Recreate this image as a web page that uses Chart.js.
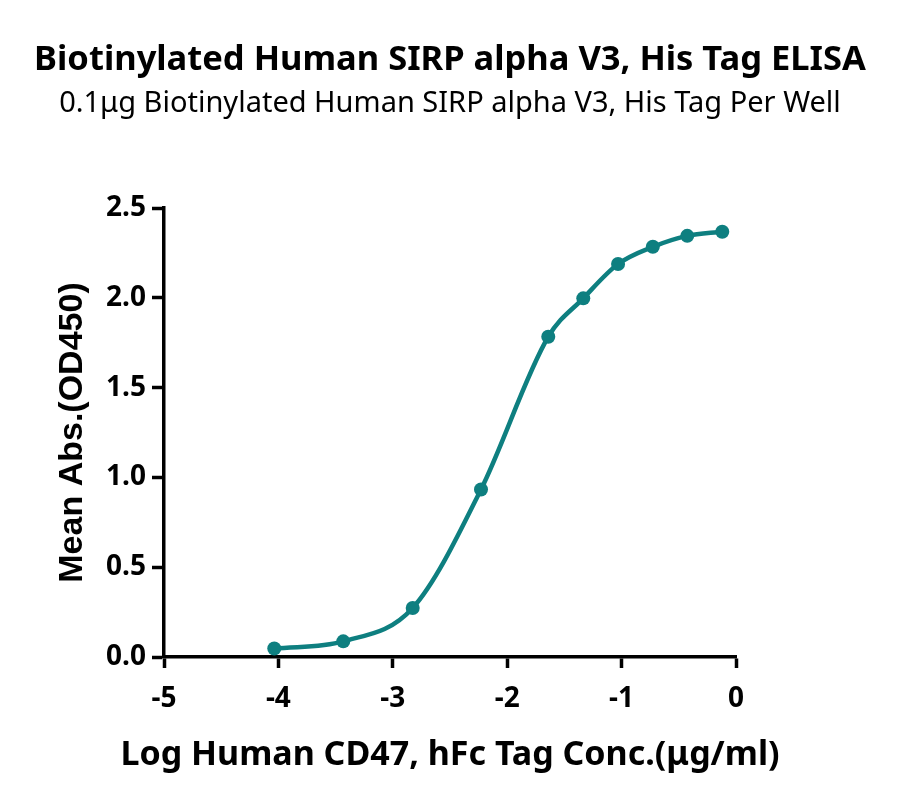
<!DOCTYPE html>
<html lang="en">
<head>
    <meta charset="UTF-8">
    <title>Biotinylated Human SIRP alpha V3, His Tag ELISA</title>
    <style>
        body {
            margin: 0;
            padding: 0;
            background-color: #fff;
        }
        .wrap {
            position: relative;
            width: 900px;
            height: 806px;
        }
        .title, .subtitle, .x-title {
            position: absolute;
            left: 0;
            width: 900px;
            text-align: center;
            color: #000;
            font-family: "Noto Sans", sans-serif;
            white-space: nowrap;
        }
        .title {
            top: 37px;
            font-size: 34.5px;
            line-height: 40px;
            font-weight: bold;
        }
        .subtitle {
            top: 86px;
            font-size: 29px;
            line-height: 30px;
        }
        .x-title {
            top: 732px;
            font-size: 34px;
            line-height: 40px;
            font-weight: bold;
        }
        canvas {
            position: absolute;
            left: 0;
            top: 0;
        }
    </style>
</head>
<body>
    <div class="wrap">
        <canvas id="elisaChart" width="900" height="806"></canvas>
        <div class="title">Biotinylated Human SIRP alpha V3, His Tag ELISA</div>
        <div class="subtitle">0.1μg Biotinylated Human SIRP alpha V3, His Tag Per Well</div>
        <div class="x-title">Log Human CD47, hFc Tag Conc.(μg/ml)</div>
    </div>

    <script src="https://cdn.jsdelivr.net/npm/chart.js"></script>
    <script>
        // Dados
        const logConc = [-4.036, -3.433, -2.826, -2.229, -1.641, -1.335, -1.031, -0.727, -0.426, -0.120];
        const meanAbs = [0.047, 0.087, 0.273, 0.933, 1.783, 1.997, 2.188, 2.284, 2.345, 2.368];
        const xTicks = [-5, -4, -3, -2, -1, 0];
        const yTicks = [0.0, 0.5, 1.0, 1.5, 2.0, 2.5];

        const teal = '#0e7f80';
        const points = logConc.map((x, i) => ({ x: x, y: meanAbs[i] }));

        new Chart(document.getElementById('elisaChart'), {
            type: 'line',
            data: {
                datasets: [{
                    data: points,
                    borderColor: teal,
                    backgroundColor: teal,
                    borderWidth: 4.5,
                    cubicInterpolationMode: 'monotone',
                    pointRadius: 7,
                    pointBackgroundColor: teal,
                    pointBorderWidth: 0,
                    fill: false
                }]
            },
            options: {
                responsive: false,
                animation: false,
                layout: {
                    padding: { left: 0, right: 164, top: 208, bottom: 0 }
                },
                plugins: {
                    legend: { display: false },
                    tooltip: { enabled: false }
                },
                scales: {
                    x: {
                        type: 'linear',
                        min: xTicks[0],
                        max: xTicks[xTicks.length - 1],
                        afterFit: s => { s.height = 149; },
                        afterBuildTicks: s => { s.ticks = xTicks.map(v => ({ value: v })); },
                        ticks: {
                            color: '#000',
                            padding: 14,
                            font: { family: 'Noto Sans', size: 28, weight: 'bold' },
                            callback: v => String(v)
                        },
                        grid: {
                            drawOnChartArea: false,
                            drawTicks: true,
                            tickLength: 11,
                            tickWidth: 3.5,
                            tickColor: '#000'
                        },
                        border: { color: '#000', width: 3.5 },
                        // o título do eixo X fica no HTML (.x-title)
                        title: { display: false }
                    },
                    y: {
                        min: yTicks[0],
                        max: yTicks[yTicks.length - 1],
                        afterFit: s => { s.width = 164; },
                        afterBuildTicks: s => { s.ticks = yTicks.map(v => ({ value: v })); },
                        ticks: {
                            color: '#000',
                            padding: 6,
                            font: { family: 'Noto Sans', size: 28, weight: 'bold' },
                            callback: v => Number(v).toFixed(1)
                        },
                        grid: {
                            drawOnChartArea: false,
                            drawTicks: true,
                            tickLength: 12,
                            tickWidth: 3.5,
                            tickColor: '#000'
                        },
                        border: { color: '#000', width: 3.5 },
                        title: {
                            display: true,
                            text: 'Mean Abs.(OD450)',
                            color: '#000',
                            font: { family: 'Liberation Sans', size: 34, weight: 'bold' },
                            padding: { top: 52, bottom: 0 }
                        }
                    }
                }
            }
        });
    </script>
</body>
</html>
